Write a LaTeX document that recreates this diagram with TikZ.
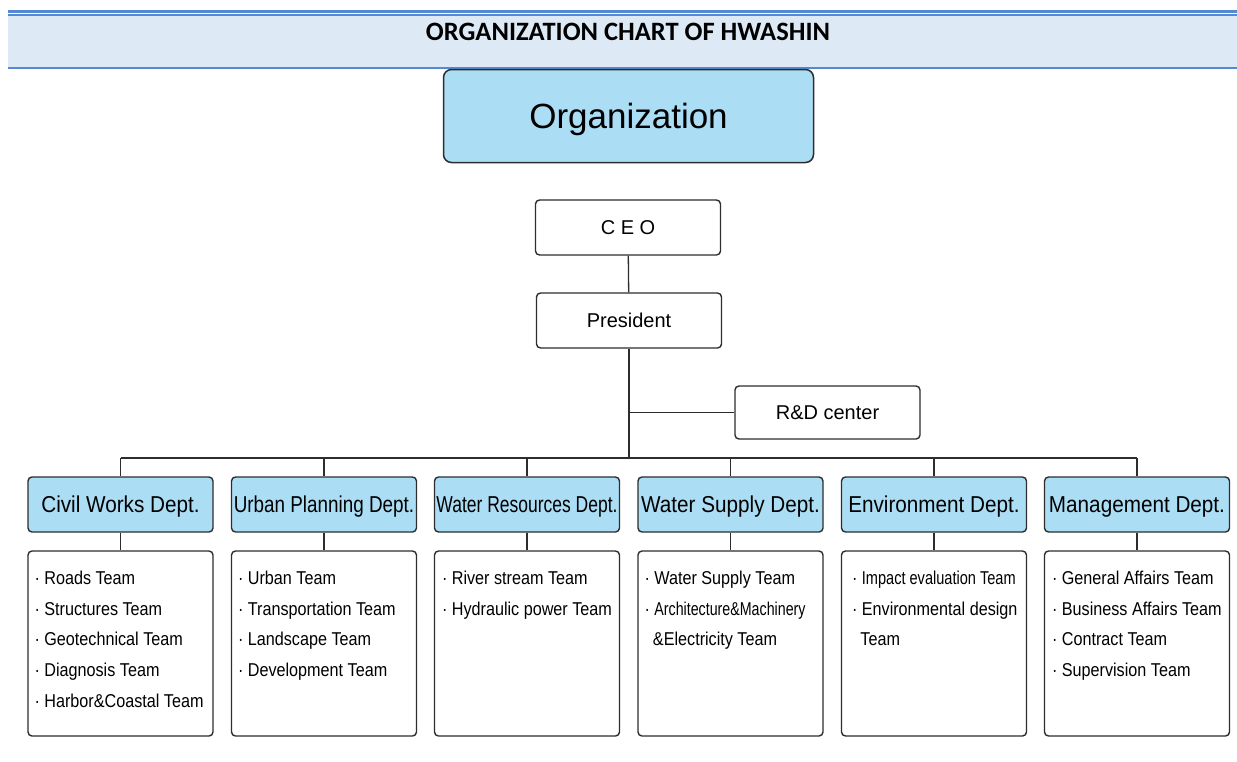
\documentclass[tikz,border=0pt]{standalone}
\usepackage{fontspec}
\setmainfont{Liberation Sans}
\newfontfamily\headfont{Carlito}
\newfontfamily\deptfont[FakeStretch=0.9]{Liberation Sans}
\newfontfamily\tightfont[FakeStretch=0.82]{Liberation Sans}
\newfontfamily\tighterfont[FakeStretch=0.76]{Liberation Sans}
\newfontfamily\teamfont[FakeStretch=0.87]{Liberation Sans}

\definecolor{bandblue}{RGB}{84,138,212}
\definecolor{bandfill}{RGB}{222,233,246}
\definecolor{boxblue}{RGB}{171,221,245}
\definecolor{edge}{RGB}{45,45,45}

\tikzset{
  link/.style={draw=edge, line width=1.3pt},
  headbox/.style={draw=edge, line width=1.4pt, rounded corners=4pt, fill=white,
    minimum width=185pt, minimum height=55pt, inner sep=0pt, text depth=0pt,
    font=\fontsize{20}{24}\selectfont},
  deptbox/.style={draw=edge, line width=1.4pt, rounded corners=4pt, fill=boxblue,
    minimum width=185pt, minimum height=55pt, inner sep=0pt, text depth=0pt,
    font=\deptfont\fontsize{23}{26}\selectfont},
  teambox/.style={draw=edge, line width=1.4pt, rounded corners=4pt, fill=white,
    minimum width=185pt, minimum height=185pt, inner sep=0pt},
  teamlist/.style={anchor=north west, align=left, inner sep=0pt,
    font=\teamfont\fontsize{18.6}{30.7}\selectfont}
}

\begin{document}
\begin{tikzpicture}[x=1pt,y=-1pt]
\useasboundingbox (0,0) rectangle (1237,761);

% title band
\fill[bandblue] (8,10) rectangle (1237,12.7);
\fill[bandblue] (8,14) rectangle (1237,16);
\fill[bandfill] (8,16) rectangle (1237,66.7);
\fill[bandblue] (8,66.7) rectangle (1237,68.7);
\node[font=\headfont\bfseries\fontsize{26.5}{30}\selectfont] (title) at (628,32)
  {ORGANIZATION CHART OF HWASHIN};

\node[draw=edge, line width=1.5pt, rounded corners=8pt, fill=boxblue,
  minimum width=370pt, minimum height=93pt, text depth=0pt,
  font=\fontsize{35}{40}\selectfont] (org) at (628.5,116) {Organization};

% top of the tree
\node[headbox] (ceo) at (628,227.5) {C E O};
\node[headbox] (pres) at (629,320.5) {President};
\node[headbox, minimum height=53pt] (rd) at (827.5,412.5) {R\&D center};
\coordinate (bus) at (629,458);

% departments
\node[deptbox] (civil) at (120.5,504.5) {Civil Works Dept.};
\node[deptbox, font=\tightfont\fontsize{23}{26}\selectfont] (urban) at (324,504.5) {Urban Planning Dept.};
\node[deptbox, font=\tighterfont\fontsize{23}{26}\selectfont] (water) at (527,504.5) {Water Resources Dept.};
\node[deptbox] (supply) at (730.5,504.5) {Water Supply Dept.};
\node[deptbox] (env) at (934,504.5) {Environment Dept.};
\node[deptbox] (mgmt) at (1137,504.5) {Management Dept.};

% teams
\node[teambox] (civilT) at (120.5,643.5) {};
\node[teambox] (urbanT) at (324,643.5) {};
\node[teambox] (waterT) at (527,643.5) {};
\node[teambox] (supplyT) at (730.5,643.5) {};
\node[teambox] (envT) at (934,643.5) {};
\node[teambox] (mgmtT) at (1137,643.5) {};

\node[teamlist] (civilL) at ([shift={(7,20.5)}]civilT.north west)
  {· Roads Team\\· Structures Team\\· Geotechnical Team\\· Diagnosis Team\\· Harbor\&Coastal Team};
\node[teamlist] (urbanL) at ([shift={(7,20.5)}]urbanT.north west)
  {· Urban Team\\· Transportation Team\\· Landscape Team\\· Development Team};
\node[teamlist] (waterL) at ([shift={(8,20.5)}]waterT.north west)
  {· River stream Team\\· Hydraulic power Team};
\node[teamlist] (supplyL) at ([shift={(7,20.5)}]supplyT.north west)
  {· Water Supply Team\\· \scalebox{0.88}[1]{Architecture\&Machinery}\\\phantom{·}\,\&Electricity Team};
\node[teamlist] (envL) at ([shift={(11,20.5)}]envT.north west)
  {· \scalebox{0.9}[1]{Impact evaluation Team}\\· Environmental design\\\phantom{·}\,Team};
\node[teamlist] (mgmtL) at ([shift={(8,20.5)}]mgmtT.north west)
  {· General Affairs Team\\· Business Affairs Team\\· Contract Team\\· Supervision Team};

% connectors
\draw[link] (ceo) -- (pres);
\draw[link] (pres) -- (bus);
\draw[link] (pres.south |- rd.west) -- (rd);
\draw[link] (civil.north |- bus) -- (mgmt.north |- bus);
\foreach \d in {civil,urban,water,supply,env,mgmt} {
  \draw[link] (\d.north |- bus) -- (\d);
  \draw[link] (\d) -- (\d T);
}
\end{tikzpicture}
\end{document}
